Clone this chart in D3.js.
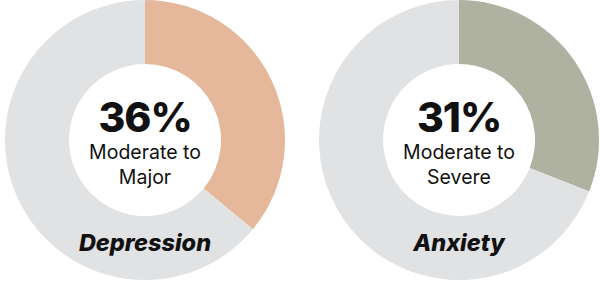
<!DOCTYPE html>
<html>
    <head>
        <meta charset="utf-8" />
        <script src="https://d3js.org/d3.v7.min.js"></script>
        <style>
            body { margin: 0; background: #fff; }
            svg { display: block; font-family: Inter, Lato, sans-serif; }
        </style>
    </head>
    <body>
        <svg width="600" height="282"></svg>
        <script>
            // one donut per condition
            const conditions = ['Depression', 'Anxiety']
            const percents = [36, 31]
            const subLines = [
                ['Moderate to', 'Major'],
                ['Moderate to', 'Severe'],
            ]
            const sliceColors = ['#e5b89c', '#b0b2a1']
            const restColor = '#e1e2e4'

            const svg = d3.select('svg')
            const centersX = [145, 459]
            const cy = 140
            const outerR = 140
            const innerR = 76

            const pie = d3.pie().sort(null).value((d) => d)
            const arc = d3.arc().innerRadius(innerR).outerRadius(outerR)

            conditions.forEach((name, i) => {
                const g = svg
                    .append('g')
                    .attr('transform', `translate(${centersX[i]},${cy})`)

                g.selectAll('path')
                    .data(pie([percents[i], 100 - percents[i]]))
                    .enter()
                    .append('path')
                    .attr('d', arc)
                    .style('fill', (d, j) => (j === 0 ? sliceColors[i] : restColor))

                g.append('text')
                    .attr('text-anchor', 'middle')
                    .attr('y', -8)
                    .style('font-size', '41px')
                    .style('font-weight', 800)
                    .style('letter-spacing', '-1px')
                    .style('fill', '#111')
                    .text(percents[i] + '%')

                g.selectAll('text.sub')
                    .data(subLines[i])
                    .enter()
                    .append('text')
                    .attr('class', 'sub')
                    .attr('text-anchor', 'middle')
                    .attr('y', (d, j) => 19 + j * 25)
                    .style('font-size', '19.5px')
                    .style('fill', '#111')
                    .text((d) => d)

                g.append('text')
                    .attr('text-anchor', 'middle')
                    .attr('y', 111)
                    .style('font-size', '23.5px')
                    .style('font-weight', 800)
                    .style('font-style', 'italic')
                    .style('fill', '#111')
                    .text(name)
            })
        </script>
    </body>
</html>
